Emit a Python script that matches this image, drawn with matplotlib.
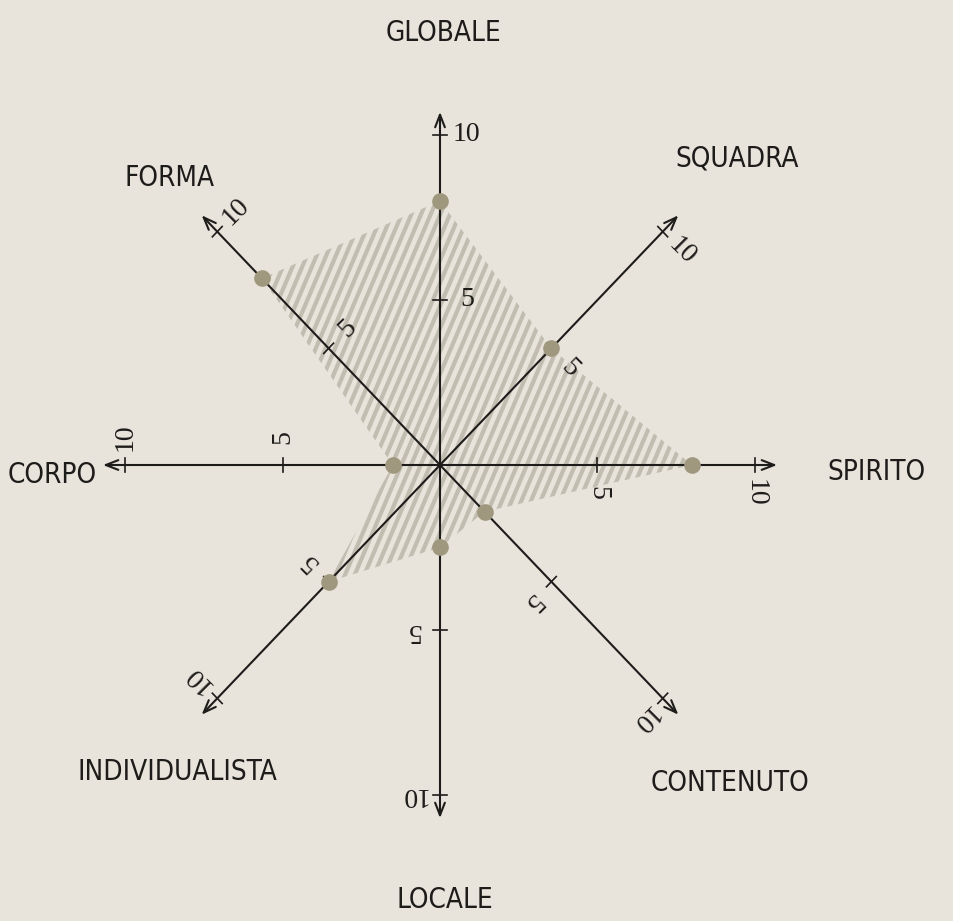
import numpy as np
import matplotlib
matplotlib.use("Agg")
import matplotlib.pyplot as plt
from matplotlib import font_manager
from matplotlib.patches import Polygon
from matplotlib.collections import LineCollection

# axes clockwise from the top, angle in degrees
categories = ["GLOBALE", "SQUADRA", "SPIRITO", "CONTENUTO",
              "LOCALE", "INDIVIDUALISTA", "CORPO", "FORMA"]
angles_deg = [90, 45, 0, -45, -90, -135, 180, 135]
values = [8, 5, 8, 2, 2.5, 5, 1.5, 8]
tick_values = [5, 10]
tick_labels = ["5", "10"]

# where the axis names sit (x, y, horizontal alignment)
name_pos = {
    "GLOBALE": (0.1, 13.09, "center"),
    "SQUADRA": (9.43, 9.30, "center"),
    "SPIRITO": (12.3, -0.21, "left"),
    "CONTENUTO": (9.21, -9.64, "center"),
    "LOCALE": (0.16, -13.18, "center"),
    "INDIVIDUALISTA": (-8.32, -9.30, "center"),
    "CORPO": (-13.72, -0.3, "left"),
    "FORMA": (-8.57, 8.70, "center"),
}

paper = "#e8e4db"
ink = "#1e1c1a"
hatch_col = "#c1bdb1"
dot_col = "#9f987f"
num_font = ["Liberation Serif", "DejaVu Serif"]

# the names are set in a narrow sans in the original; use one if there is one
fonts = font_manager.fontManager.ttflist
names = {f.name for f in fonts}
if "Liberation Sans Narrow" in names:
    name_kw = dict(family="Liberation Sans Narrow", fontsize=20)
elif any(f.name == "DejaVu Sans" and f.stretch == "condensed" for f in fonts):
    name_kw = dict(family="DejaVu Sans", fontstretch="condensed", fontsize=20)
else:
    name_kw = dict(family=["Liberation Sans", "DejaVu Sans"], fontsize=18)

fig = plt.figure(figsize=(9.54, 9.21), dpi=100, facecolor=paper)
ax = fig.add_axes([0, 0, 1, 1])
ax.set_facecolor(paper)
ax.set_xlim(-440 / 31.5, 514 / 31.5)
ax.set_ylim(-456 / 33, 465 / 33)
ax.axis("off")

th = np.radians(angles_deg)
ux, uy = np.cos(th), np.sin(th)

# hatched area
px = np.array(values) * ux
py = np.array(values) * uy
poly = Polygon(np.column_stack([px, py]), closed=True, facecolor="none",
               edgecolor="none")
ax.add_patch(poly)
a = np.radians(66)
d = np.array([np.cos(a), np.sin(a)])
n = np.array([-np.sin(a), np.cos(a)])
segs = []
for c in np.arange(-14, 14, 0.28):
    segs.append([c * n - 15 * d, c * n + 15 * d])
lc = LineCollection(segs, colors=hatch_col, linewidths=3.0, zorder=1)
ax.add_collection(lc)
lc.set_clip_path(poly)

# axes with arrows, ticks and tick labels
r_tip = 10.7
for i, name in enumerate(categories):
    ex, ey = ux[i], uy[i]
    ax.annotate("", xy=(r_tip * ex, r_tip * ey), xytext=(0, 0),
                arrowprops=dict(arrowstyle="->,head_length=0.9,head_width=0.35",
                                color=ink, lw=1.5, shrinkA=0, shrinkB=0),
                zorder=3)
    perp = np.array([ey, -ex])  # clockwise side
    for tv, tl in zip(tick_values, tick_labels):
        cx, cy = tv * ex, tv * ey
        ax.plot([cx - 0.22 * perp[0], cx + 0.22 * perp[0]],
                [cy - 0.22 * perp[1], cy + 0.22 * perp[1]],
                color=ink, lw=1.2, zorder=3)
        ax.text(cx + 0.85 * perp[0], cy + 0.85 * perp[1], tl,
                rotation=angles_deg[i] - 90, rotation_mode="anchor",
                ha="center", va="center", fontsize=20,
                family=num_font, color=ink, zorder=4)

    x, y, ha = name_pos[name]
    ax.text(x, y, name, ha=ha, va="center", color=ink, **name_kw)

ax.plot(px, py, "o", color=dot_col, markersize=12, markeredgewidth=0, zorder=5)

fig.savefig("out.png", dpi=100, facecolor=paper)
